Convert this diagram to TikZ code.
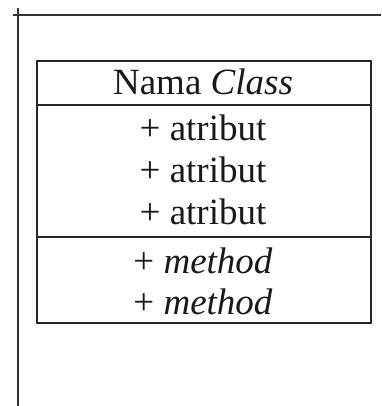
\documentclass[tikz,border=0pt]{standalone}
\usepackage{fontspec}
\setmainfont{Liberation Serif}
\tikzset{
  frameline/.style={line width=2.2pt, draw=black!80},
  boxline/.style={line width=2pt, draw=black!85},
  member/.style={font=\fontsize{37}{40}\selectfont, text=black!90, inner sep=0pt, anchor=base}
}
\begin{document}
\begin{tikzpicture}[x=1pt,y=-1pt]
\useasboundingbox (0,0) rectangle (381,406);
% frame lines
\coordinate (vt) at (18,8);
\coordinate (vb) at (18,406);
\coordinate (hl) at (13,15);
\coordinate (hr) at (381,15);
\draw[frameline] (vt) -- (vb);
\draw[frameline] (hl) -- (hr);
% class box
\coordinate (tl) at (37,61);
\coordinate (br) at (371,323);
\draw[boxline] (tl) rectangle (br);
\coordinate (d1l) at (37,105);
\coordinate (d1r) at (371,105);
\coordinate (d2l) at (37,237);
\coordinate (d2r) at (371,237);
\draw[boxline] (d1l) -- (d1r);
\draw[boxline] (d2l) -- (d2r);
% texts
\node[member] (title) at (203,95) {Nama \textit{Class}};
\node[member] (a1) at (203,140) {+ atribut};
\node[member] (a2) at (203,182) {+ atribut};
\node[member] (a3) at (203,224) {+ atribut};
\node[member] (m1) at (203,273) {+ \textit{method}};
\node[member] (m2) at (203,314) {+ \textit{method}};
\end{tikzpicture}
\end{document}
